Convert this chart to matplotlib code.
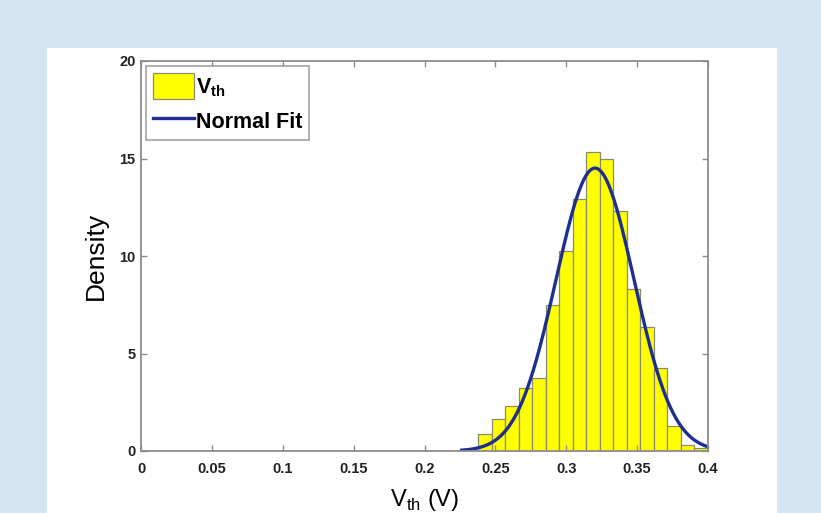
import numpy as np
import matplotlib
matplotlib.use("Agg")
import matplotlib.pyplot as plt

# histogram of threshold voltage (density)
bin_edges = np.linspace(0.2378, 0.3997, 18)
density = [0.85, 1.62, 2.3, 3.25, 3.75, 7.5, 10.25, 12.9, 15.35, 15.0,
           12.3, 8.3, 6.35, 4.25, 1.28, 0.33, 0.15]

# normal fit parameters
mu = 0.3203
sigma = 0.0275
fit_range = (0.2262, 0.4)

x_ticks = [0, 0.05, 0.1, 0.15, 0.2, 0.25, 0.3, 0.35, 0.4]
x_tick_labels = ["0", "0.05", "0.1", "0.15", "0.2", "0.25", "0.3", "0.35", "0.4"]
y_ticks = [0, 5, 10, 15, 20]

plt.rcParams['font.family'] = ['Liberation Sans', 'DejaVu Sans']
plt.rcParams['mathtext.fontset'] = 'custom'
plt.rcParams['mathtext.rm'] = 'Liberation Sans'
plt.rcParams['mathtext.bf'] = 'Liberation Sans:bold'

fig = plt.figure(figsize=(8.21, 5.13), dpi=100)
fig.patch.set_facecolor('#d5e5f3')

# white panel behind the plot
panel = fig.add_axes([47 / 821, 0, 730 / 821, 465 / 513])
panel.set_axis_off()
panel.add_patch(plt.Rectangle((0, 0), 1, 1, transform=panel.transAxes,
                              facecolor='white', edgecolor='none'))

ax = fig.add_axes([141 / 821, 1 - 451 / 513, 567 / 821, 390 / 513])
ax.set_facecolor('white')

bars = ax.bar(bin_edges[:-1], density, width=np.diff(bin_edges), align='edge',
              color='#ffff00', edgecolor='#8a8a70', linewidth=0.9)

xs = np.linspace(fit_range[0], fit_range[1], 300)
pdf = np.exp(-0.5 * ((xs - mu) / sigma) ** 2) / (sigma * np.sqrt(2 * np.pi))
line, = ax.plot(xs, pdf, color='#1f2f8f', linewidth=2.4)

ax.set_xlim(0, 0.4)
ax.set_ylim(0, 20)
ax.set_xticks(x_ticks)
ax.set_xticklabels(x_tick_labels)
ax.set_yticks(y_ticks)

for s in ax.spines.values():
    s.set_color('#8c8c8c')
    s.set_linewidth(1.3)
ax.tick_params(direction='in', length=4, width=1, color='#8c8c8c',
               top=True, right=True, labelsize=10.5)
ax.tick_params(axis='x', pad=8)
ax.tick_params(axis='y', pad=4)
for lab in ax.get_xticklabels() + ax.get_yticklabels():
    lab.set_fontweight('bold')
    lab.set_color('#222222')

ax.set_ylabel('Density', fontsize=19, labelpad=8)
ax.set_xlabel(r'V$_{\rm th}$ (V)', fontsize=17, labelpad=8)

leg = ax.legend([bars, line], [r'$\mathbf{V_{th}}$', 'Normal Fit'],
                loc='upper left', prop={'weight': 'bold', 'size': 15.5},
                frameon=True, fancybox=False, borderpad=0.3, handlelength=1.9,
                handleheight=1.5, handletextpad=0.12, borderaxespad=0.25,
                labelspacing=0.4)
leg.get_frame().set_edgecolor('#8c8c8c')
leg.get_frame().set_linewidth(1.2)

fig.savefig('out.png', dpi=100, facecolor=fig.get_facecolor())
